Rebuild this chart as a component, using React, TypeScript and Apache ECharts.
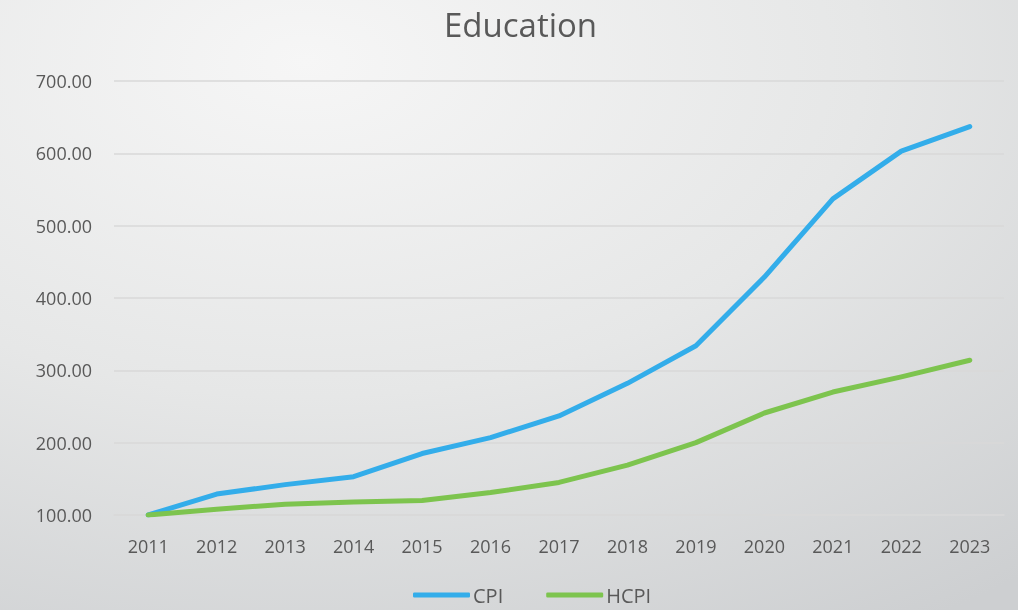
import React, { useEffect, useRef } from "react";
import * as echarts from "echarts";

const years = ["2011", "2012", "2013", "2014", "2015", "2016", "2017", "2018", "2019", "2020", "2021", "2022", "2023"];
const cpi = [100, 129, 142, 153, 185, 207, 237, 282, 334, 429, 537, 603, 637];
const hcpi = [100, 108, 115, 118, 120, 131, 145, 169, 200, 241, 270, 291, 314];

export default function App() {
  const ref = useRef<HTMLDivElement>(null);
  useEffect(() => {
    if (!ref.current) return;
    const chart = echarts.init(ref.current, null, { renderer: "svg" });
    const font = "Open Sans";
    chart.setOption({
      animation: false,
      backgroundColor: {
        type: "radial",
        x: 0.3,
        y: 0.1,
        r: 1.1,
        colorStops: [
          { offset: 0, color: "#f6f6f6" },
          { offset: 0.5, color: "#e6e7e7" },
          { offset: 1, color: "#cdcfd1" },
        ],
      },
      title: {
        text: "Education",
        left: 439,
        top: 3,
        itemGap: 0,
        textStyle: { fontFamily: font, fontSize: 33, fontWeight: "normal", color: "#595959" },
      },
      legend: {
        bottom: 0,
        left: 408,
        icon: "roundRect",
        itemWidth: 57,
        itemHeight: 5,
        itemGap: 43,
        textStyle: { fontFamily: font, fontSize: 20, color: "#595959", padding: [0, 0, 0, -2] },
        data: ["CPI", "HCPI"],
      },
      grid: { left: 114, right: 14, top: 81, bottom: 95 },
      xAxis: {
        type: "category",
        data: years,
        boundaryGap: true,
        axisTick: { show: false },
        axisLine: { show: true, lineStyle: { color: "#d9d9d9", width: 1.5 } },
        axisLabel: { fontFamily: font, fontSize: 18, color: "#595959", margin: 22 },
      },
      yAxis: {
        type: "value",
        min: 100,
        max: 700,
        interval: 100,
        axisLine: { show: false },
        axisTick: { show: false },
        splitLine: { lineStyle: { color: "#d9d9d9", width: 1.5 } },
        axisLabel: {
          fontFamily: font,
          fontSize: 18,
          color: "#595959",
          margin: 22,
          formatter: (v: number) => v.toFixed(2),
        },
      },
      series: [
        {
          name: "CPI",
          type: "line",
          data: cpi,
          symbol: "none",
          itemStyle: { color: "#33adea" },
          lineStyle: { color: "#33adea", width: 5, cap: "round", join: "round" },
        },
        {
          name: "HCPI",
          type: "line",
          data: hcpi,
          symbol: "none",
          itemStyle: { color: "#7dc44e" },
          lineStyle: { color: "#7dc44e", width: 5, cap: "round", join: "round" },
        },
      ],
    });
    return () => chart.dispose();
  }, []);
  return (
    <div
      ref={ref}
      style={{ position: "fixed", left: 0, top: 0, width: 1018, height: 610 }}
    />
  );
}
